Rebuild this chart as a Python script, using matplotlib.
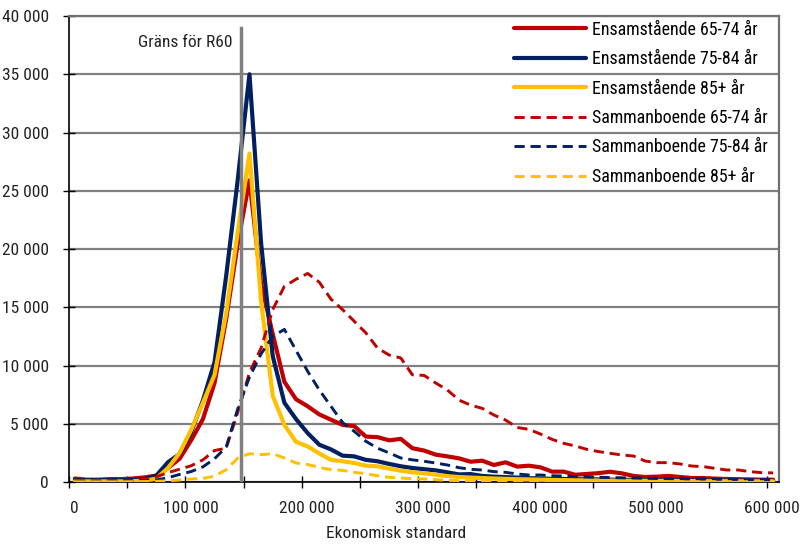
import numpy as np
import matplotlib
matplotlib.use("Agg")
import matplotlib.pyplot as plt
from matplotlib import font_manager as fm
from matplotlib.ticker import MultipleLocator
from matplotlib.transforms import ScaledTranslation

# pick a narrow font if one is installed
fonts = fm.fontManager.ttflist
names = {f.name for f in fonts}
fsize = 12.5
stretch = 'normal'
family = None
for cand in ['Liberation Sans Narrow', 'Roboto Condensed', 'DejaVu Sans Condensed',
             'Open Sans Condensed', 'Noto Sans Condensed']:
    if cand in names:
        family = cand
        break
if family is None:
    cond = [f for f in fonts if f.stretch in ('condensed', 'semi-condensed', 'extra-condensed')]
    if cond:
        family = cond[0].name
        stretch = cond[0].stretch
    else:
        family = 'Roboto'
        fsize = 10.5
if family.startswith('DejaVu'):
    fsize = 11
leg_size = fsize * 1.03
plt.rcParams['font.family'] = [family, 'DejaVu Sans']
plt.rcParams['font.stretch'] = stretch

# x = ekonomisk standard (bin centres, kr)
x = np.arange(5000, 605001, 10000)

ens_65_74 = [300, 200, 200, 250, 250, 300, 400, 550, 1200, 2000,
             3600, 5400, 8500, 14000, 20500, 25900, 17000, 12700, 8600, 7100,
             6500, 5800, 5350, 4900, 4800, 3900, 3850, 3580, 3700, 2900,
             2700, 2350, 2200, 2030, 1740, 1830, 1460, 1690, 1320, 1400,
             1260, 890, 890, 620, 690, 760, 880, 740, 520, 430,
             460, 520, 430, 340, 340, 290, 260, 240, 220, 200, 200]
ens_75_84 = [150, 150, 150, 150, 150, 200, 250, 550, 1700, 2400,
             4300, 7000, 10300, 17700, 26000, 35000, 20500, 10800, 6800, 5400,
             4200, 3200, 2800, 2260, 2200, 1900, 1780, 1550, 1350, 1200,
             1100, 1000, 830, 650, 680, 520, 460, 420, 380, 330,
             300, 270, 260, 240, 230, 220, 200, 190, 180, 170,
             160, 150, 150, 140, 130, 120, 120, 110, 110, 100, 100]
ens_85 = [50, 50, 50, 50, 50, 80, 100, 300, 1200, 2500,
          4500, 6800, 9200, 14500, 21500, 28200, 15500, 7400, 4900, 3450,
          3050, 2450, 1900, 1780, 1630, 1400, 1350, 1150, 970, 830,
          740, 630, 500, 430, 380, 340, 300, 270, 240, 220,
          200, 180, 160, 150, 140, 130, 120, 110, 100, 100,
          90, 90, 80, 80, 70, 70, 70, 60, 60, 60, 60]
sam_65_74 = [100, 100, 100, 120, 120, 150, 230, 450, 800, 1100,
             1400, 1900, 2700, 2900, 6000, 9400, 11500, 14800, 16800, 17400,
             17900, 17150, 15700, 14800, 13800, 12800, 11500, 10900, 10650, 9200,
             9150, 8500, 7900, 7030, 6600, 6320, 5750, 5320, 4680, 4520,
             4120, 3660, 3320, 3090, 2800, 2610, 2460, 2320, 2230, 1800,
             1660, 1660, 1550, 1370, 1320, 1170, 1030, 1030, 890, 800, 780]
sam_75_84 = [50, 50, 50, 50, 60, 80, 100, 170, 370, 650,
             900, 1300, 2000, 3000, 6300, 9000, 11000, 12500, 13100, 11300,
             9500, 7900, 6500, 5100, 4350, 3500, 2900, 2500, 2060, 1900,
             1780, 1630, 1460, 1230, 1090, 1030, 890, 830, 690, 600,
             600, 540, 510, 460, 430, 400, 380, 360, 340, 320,
             300, 290, 280, 260, 250, 240, 230, 220, 210, 200, 190]
sam_85 = [20, 20, 20, 20, 20, 30, 40, 60, 100, 170,
          260, 300, 500, 1060, 2060, 2430, 2350, 2430, 2060, 1630,
          1500, 1250, 1060, 1000, 830, 720, 540, 400, 340, 290,
          260, 200, 140, 120, 110, 100, 90, 80, 70, 60,
          60, 50, 50, 50, 50, 40, 40, 40, 40, 40,
          40, 30, 30, 30, 30, 30, 30, 30, 30, 30, 30]

labels = ["Ensamstående 65-74 år", "Ensamstående 75-84 år", "Ensamstående 85+ år",
          "Sammanboende 65-74 år", "Sammanboende 75-84 år", "Sammanboende 85+ år"]
colors = ["#C00000", "#002060", "#FFC000"]

xticks = np.arange(0, 600001, 100000)
yticks = np.arange(0, 40001, 5000)
r60 = 148000

fig = plt.figure(figsize=(8.06, 5.45), dpi=100)
ax = fig.add_axes([0.0857, 0.1156, 0.8808, 0.855])

for vals, lab, c in zip([ens_65_74, ens_75_84, ens_85], labels[:3], colors):
    ax.plot(x, vals, color=c, lw=3.0, label=lab, solid_capstyle='round', zorder=3)
for vals, lab, c in zip([sam_65_74, sam_75_84, sam_85], labels[3:], colors):
    ax.plot(x, vals, color=c, lw=2.1, ls=(0, (3.5, 2)), label=lab, zorder=3)

# Gräns för R60
ax.plot([r60, r60], [0, 39000], color="#808080", lw=2.5, zorder=4)
ax.text(r60 - 8000, 37700, "Gräns för R60", ha='right', va='center',
        fontsize=fsize, color="#222222")

ax.set_xlim(0, 610000)
ax.set_ylim(0, 40000)
fmt = lambda v: f"{int(v):,}".replace(",", " ")
ax.set_xticks(xticks, [fmt(v) for v in xticks])
ax.xaxis.set_minor_locator(MultipleLocator(50000))
ax.set_yticks(yticks, [fmt(v) for v in yticks])
ax.tick_params(axis='both', which='both', direction='inout', length=8, width=1,
               labelsize=fsize, labelcolor="#222222")
ax.tick_params(axis='y', pad=10.5)
ax.tick_params(axis='x', pad=9.5)
shift = ScaledTranslation(5 / 100, 0, fig.dpi_scale_trans)
for lab in ax.get_xticklabels():
    lab.set_transform(lab.get_transform() + shift)
ax.grid(axis='y', color="#808080", lw=1.6)
ax.set_axisbelow(True)
for s in ['left', 'bottom']:
    ax.spines[s].set_color('black')
    ax.spines[s].set_linewidth(1.2)
for s in ['top', 'right']:
    ax.spines[s].set_color('#707070')
    ax.spines[s].set_linewidth(1.6)

ax.set_xlabel("Ekonomisk standard", fontsize=fsize, color="#222222")
ax.xaxis.set_label_coords(0.46, -0.095)

leg = ax.legend(loc='upper left', bbox_to_anchor=(0.627, 0.99), frameon=False,
                fontsize=leg_size, handlelength=72 / (leg_size * 100 / 72),
                handletextpad=0.35, labelspacing=0.64, borderpad=0, borderaxespad=0)

fig.savefig("out.png", dpi=100)
